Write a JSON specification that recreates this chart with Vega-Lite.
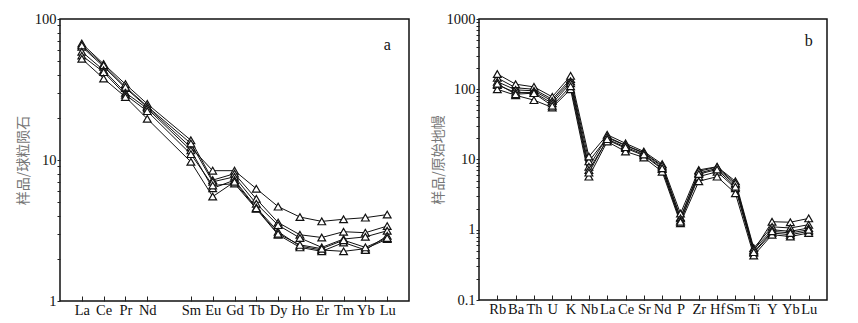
{
  "$schema": "https://vega.github.io/schema/vega-lite/v6.json",
  "padding": {"left": 15, "top": 10, "right": 0, "bottom": 0},
  "background": "white",
  "config": {
    "view": {"stroke": "#111", "strokeWidth": 1.5},
    "axis": {"grid": false, "domain": false, "labelFont": "Liberation Serif", "labelFontSize": 14.5, "labelColor": "#111", "tickColor": "#222", "titleFont": "Noto Sans CJK SC", "titleFontSize": 14, "titleFontWeight": "normal", "titleColor": "#777"}
  },
  "datasets": {
    "ree": [
      {"s": "1", "el": "La", "v": 63.5}, {"s": "1", "el": "Ce", "v": 45.9}, {"s": "1", "el": "Pr", "v": 32.4}, {"s": "1", "el": "Nd", "v": 23.7}, {"s": "1", "el": "Sm", "v": 12.3}, {"s": "1", "el": "Eu", "v": 8.4}, {"s": "1", "el": "Gd", "v": 8.4}, {"s": "1", "el": "Tb", "v": 6.26}, {"s": "1", "el": "Dy", "v": 4.67}, {"s": "1", "el": "Ho", "v": 3.94}, {"s": "1", "el": "Er", "v": 3.67}, {"s": "1", "el": "Tm", "v": 3.8}, {"s": "1", "el": "Yb", "v": 3.9}, {"s": "1", "el": "Lu", "v": 4.1},
      {"s": "2", "el": "La", "v": 67}, {"s": "2", "el": "Ce", "v": 48}, {"s": "2", "el": "Pr", "v": 34.5}, {"s": "2", "el": "Nd", "v": 25}, {"s": "2", "el": "Sm", "v": 13.8}, {"s": "2", "el": "Eu", "v": 7.2}, {"s": "2", "el": "Gd", "v": 8.0}, {"s": "2", "el": "Tb", "v": 5.3}, {"s": "2", "el": "Dy", "v": 3.6}, {"s": "2", "el": "Ho", "v": 2.95}, {"s": "2", "el": "Er", "v": 2.82}, {"s": "2", "el": "Tm", "v": 3.1}, {"s": "2", "el": "Yb", "v": 3.05}, {"s": "2", "el": "Lu", "v": 3.4},
      {"s": "3", "el": "La", "v": 65}, {"s": "3", "el": "Ce", "v": 47}, {"s": "3", "el": "Pr", "v": 33}, {"s": "3", "el": "Nd", "v": 24}, {"s": "3", "el": "Sm", "v": 13.1}, {"s": "3", "el": "Eu", "v": 7.0}, {"s": "3", "el": "Gd", "v": 7.6}, {"s": "3", "el": "Tb", "v": 4.9}, {"s": "3", "el": "Dy", "v": 3.45}, {"s": "3", "el": "Ho", "v": 2.8}, {"s": "3", "el": "Er", "v": 2.4}, {"s": "3", "el": "Tm", "v": 2.75}, {"s": "3", "el": "Yb", "v": 2.85}, {"s": "3", "el": "Lu", "v": 3.15},
      {"s": "4", "el": "La", "v": 58.6}, {"s": "4", "el": "Ce", "v": 43.3}, {"s": "4", "el": "Pr", "v": 30}, {"s": "4", "el": "Nd", "v": 23.2}, {"s": "4", "el": "Sm", "v": 11.7}, {"s": "4", "el": "Eu", "v": 6.3}, {"s": "4", "el": "Gd", "v": 7.2}, {"s": "4", "el": "Tb", "v": 4.6}, {"s": "4", "el": "Dy", "v": 3.1}, {"s": "4", "el": "Ho", "v": 2.45}, {"s": "4", "el": "Er", "v": 2.3}, {"s": "4", "el": "Tm", "v": 2.25}, {"s": "4", "el": "Yb", "v": 2.35}, {"s": "4", "el": "Lu", "v": 2.75},
      {"s": "5", "el": "La", "v": 55}, {"s": "5", "el": "Ce", "v": 42}, {"s": "5", "el": "Pr", "v": 29}, {"s": "5", "el": "Nd", "v": 22.2}, {"s": "5", "el": "Sm", "v": 11.0}, {"s": "5", "el": "Eu", "v": 6.6}, {"s": "5", "el": "Gd", "v": 6.8}, {"s": "5", "el": "Tb", "v": 4.5}, {"s": "5", "el": "Dy", "v": 2.95}, {"s": "5", "el": "Ho", "v": 2.4}, {"s": "5", "el": "Er", "v": 2.25}, {"s": "5", "el": "Tm", "v": 2.6}, {"s": "5", "el": "Yb", "v": 2.3}, {"s": "5", "el": "Lu", "v": 2.9},
      {"s": "6", "el": "La", "v": 52.2}, {"s": "6", "el": "Ce", "v": 37.8}, {"s": "6", "el": "Pr", "v": 28}, {"s": "6", "el": "Nd", "v": 19.6}, {"s": "6", "el": "Sm", "v": 9.7}, {"s": "6", "el": "Eu", "v": 5.5}, {"s": "6", "el": "Gd", "v": 7.0}, {"s": "6", "el": "Tb", "v": 4.55}, {"s": "6", "el": "Dy", "v": 3.0}, {"s": "6", "el": "Ho", "v": 2.5}, {"s": "6", "el": "Er", "v": 2.35}, {"s": "6", "el": "Tm", "v": 2.7}, {"s": "6", "el": "Yb", "v": 2.4}, {"s": "6", "el": "Lu", "v": 2.8}
    ],
    "spider": [
      {"s": "1", "el": "Rb", "v": 145}, {"s": "1", "el": "Ba", "v": 105}, {"s": "1", "el": "Th", "v": 100}, {"s": "1", "el": "U", "v": 72}, {"s": "1", "el": "K", "v": 140}, {"s": "1", "el": "Nb", "v": 9.4}, {"s": "1", "el": "La", "v": 20.5}, {"s": "1", "el": "Ce", "v": 15.8}, {"s": "1", "el": "Sr", "v": 12.3}, {"s": "1", "el": "Nd", "v": 7.9}, {"s": "1", "el": "P", "v": 1.5}, {"s": "1", "el": "Zr", "v": 6.4}, {"s": "1", "el": "Hf", "v": 7.5}, {"s": "1", "el": "Sm", "v": 4.4}, {"s": "1", "el": "Ti", "v": 0.5}, {"s": "1", "el": "Y", "v": 1.3}, {"s": "1", "el": "Yb", "v": 1.28}, {"s": "1", "el": "Lu", "v": 1.45},
      {"s": "2", "el": "Rb", "v": 165}, {"s": "2", "el": "Ba", "v": 118}, {"s": "2", "el": "Th", "v": 108}, {"s": "2", "el": "U", "v": 78}, {"s": "2", "el": "K", "v": 155}, {"s": "2", "el": "Nb", "v": 11}, {"s": "2", "el": "La", "v": 22.5}, {"s": "2", "el": "Ce", "v": 17}, {"s": "2", "el": "Sr", "v": 13}, {"s": "2", "el": "Nd", "v": 8.6}, {"s": "2", "el": "P", "v": 1.7}, {"s": "2", "el": "Zr", "v": 7.1}, {"s": "2", "el": "Hf", "v": 7.9}, {"s": "2", "el": "Sm", "v": 4.9}, {"s": "2", "el": "Ti", "v": 0.55}, {"s": "2", "el": "Y", "v": 1.1}, {"s": "2", "el": "Yb", "v": 1.06}, {"s": "2", "el": "Lu", "v": 1.18},
      {"s": "3", "el": "Rb", "v": 128}, {"s": "3", "el": "Ba", "v": 98}, {"s": "3", "el": "Th", "v": 95}, {"s": "3", "el": "U", "v": 68}, {"s": "3", "el": "K", "v": 130}, {"s": "3", "el": "Nb", "v": 7.9}, {"s": "3", "el": "La", "v": 21}, {"s": "3", "el": "Ce", "v": 16}, {"s": "3", "el": "Sr", "v": 12.5}, {"s": "3", "el": "Nd", "v": 8.2}, {"s": "3", "el": "P", "v": 1.45}, {"s": "3", "el": "Zr", "v": 6.8}, {"s": "3", "el": "Hf", "v": 7.8}, {"s": "3", "el": "Sm", "v": 4.6}, {"s": "3", "el": "Ti", "v": 0.52}, {"s": "3", "el": "Y", "v": 1.0}, {"s": "3", "el": "Yb", "v": 0.95}, {"s": "3", "el": "Lu", "v": 1.06},
      {"s": "4", "el": "Rb", "v": 115}, {"s": "4", "el": "Ba", "v": 90}, {"s": "4", "el": "Th", "v": 90}, {"s": "4", "el": "U", "v": 63}, {"s": "4", "el": "K", "v": 122}, {"s": "4", "el": "Nb", "v": 7.1}, {"s": "4", "el": "La", "v": 19}, {"s": "4", "el": "Ce", "v": 14.5}, {"s": "4", "el": "Sr", "v": 11.4}, {"s": "4", "el": "Nd", "v": 7.3}, {"s": "4", "el": "P", "v": 1.35}, {"s": "4", "el": "Zr", "v": 5.7}, {"s": "4", "el": "Hf", "v": 6.7}, {"s": "4", "el": "Sm", "v": 3.9}, {"s": "4", "el": "Ti", "v": 0.47}, {"s": "4", "el": "Y", "v": 0.9}, {"s": "4", "el": "Yb", "v": 0.85}, {"s": "4", "el": "Lu", "v": 0.95},
      {"s": "5", "el": "Rb", "v": 100}, {"s": "5", "el": "Ba", "v": 82}, {"s": "5", "el": "Th", "v": 70}, {"s": "5", "el": "U", "v": 55}, {"s": "5", "el": "K", "v": 100}, {"s": "5", "el": "Nb", "v": 5.7}, {"s": "5", "el": "La", "v": 18}, {"s": "5", "el": "Ce", "v": 13}, {"s": "5", "el": "Sr", "v": 10.7}, {"s": "5", "el": "Nd", "v": 6.7}, {"s": "5", "el": "P", "v": 1.24}, {"s": "5", "el": "Zr", "v": 4.9}, {"s": "5", "el": "Hf", "v": 5.7}, {"s": "5", "el": "Sm", "v": 3.3}, {"s": "5", "el": "Ti", "v": 0.43}, {"s": "5", "el": "Y", "v": 0.85}, {"s": "5", "el": "Yb", "v": 0.8}, {"s": "5", "el": "Lu", "v": 0.9},
      {"s": "6", "el": "Rb", "v": 120}, {"s": "6", "el": "Ba", "v": 85}, {"s": "6", "el": "Th", "v": 88}, {"s": "6", "el": "U", "v": 58}, {"s": "6", "el": "K", "v": 110}, {"s": "6", "el": "Nb", "v": 6.5}, {"s": "6", "el": "La", "v": 19.5}, {"s": "6", "el": "Ce", "v": 15}, {"s": "6", "el": "Sr", "v": 11.8}, {"s": "6", "el": "Nd", "v": 7.5}, {"s": "6", "el": "P", "v": 1.3}, {"s": "6", "el": "Zr", "v": 6.2}, {"s": "6", "el": "Hf", "v": 7.2}, {"s": "6", "el": "Sm", "v": 4.1}, {"s": "6", "el": "Ti", "v": 0.48}, {"s": "6", "el": "Y", "v": 0.95}, {"s": "6", "el": "Yb", "v": 0.9}, {"s": "6", "el": "Lu", "v": 1.0}
    ]
  },
  "spacing": 20,
  "hconcat": [
    {
      "width": 349,
      "height": 282,
      "layer": [
        {
          "data": {"name": "ree"},
          "encoding": {
            "x": {"field": "el", "type": "ordinal", "sort": ["La","Ce","Pr","Nd","Pm","Sm","Eu","Gd","Tb","Dy","Ho","Er","Tm","Yb","Lu"],
              "scale": {"type": "point", "padding": 1, "domain": ["La","Ce","Pr","Nd","Pm","Sm","Eu","Gd","Tb","Dy","Ho","Er","Tm","Yb","Lu"]},
              "axis": {"title": null, "labelAngle": 0, "values": ["La","Ce","Pr","Nd","Sm","Eu","Gd","Tb","Dy","Ho","Er","Tm","Yb","Lu"], "tickSize": -5, "labelPadding": 7, "labelOverlap": false}},
            "y": {"field": "v", "type": "quantitative", "scale": {"type": "log", "domain": [1, 100], "nice": false},
              "axis": {"title": "样品/球粒陨石", "values": [1,2,3,4,5,6,7,8,9,10,20,30,40,50,60,70,80,90,100], "labelExpr": "indexof([1,10,100], datum.value) >= 0 ? format(datum.value, '~g') : ''", "tickSize": 3, "labelPadding": 1, "titlePadding": 4}},
            "detail": {"field": "s"}
          },
          "layer": [
            {"mark": {"type": "line", "color": "#111", "strokeWidth": 1}},
            {"mark": {"type": "point", "shape": "triangle-up", "filled": true, "fill": "white", "stroke": "#111", "strokeWidth": 1.2, "size": 60, "opacity": 1}}
          ]
        },
        {
          "data": {"values": [{"t": "a", "el": "Lu", "v": 65}]},
          "mark": {"type": "text", "font": "Liberation Serif", "fontSize": 16, "color": "#111"},
          "encoding": {"x": {"field": "el", "type": "ordinal"}, "y": {"field": "v", "type": "quantitative"}, "text": {"field": "t"}}
        }
      ]
    },
    {
      "width": 348,
      "height": 281,
      "layer": [
        {
          "data": {"name": "spider"},
          "encoding": {
            "x": {"field": "el", "type": "ordinal", "sort": ["Rb","Ba","Th","U","K","Nb","La","Ce","Sr","Nd","P","Zr","Hf","Sm","Ti","Y","Yb","Lu"],
              "scale": {"type": "point", "padding": 1, "domain": ["Rb","Ba","Th","U","K","Nb","La","Ce","Sr","Nd","P","Zr","Hf","Sm","Ti","Y","Yb","Lu"]},
              "axis": {"title": null, "labelAngle": 0, "tickSize": -5, "labelPadding": 7, "labelOverlap": false}},
            "y": {"field": "v", "type": "quantitative", "scale": {"type": "log", "domain": [0.1, 1000], "nice": false},
              "axis": {"title": "样品/原始地幔", "values": [0.1,0.2,0.3,0.4,0.5,0.6,0.7,0.8,0.9,1,2,3,4,5,6,7,8,9,10,20,30,40,50,60,70,80,90,100,200,300,400,500,600,700,800,900,1000], "labelExpr": "indexof([0.1,1,10,100,1000], datum.value) >= 0 ? format(datum.value, '~g') : ''", "tickSize": 3, "labelPadding": 1, "titlePadding": 1}},
            "detail": {"field": "s"}
          },
          "layer": [
            {"mark": {"type": "line", "color": "#111", "strokeWidth": 1}},
            {"mark": {"type": "point", "shape": "triangle-up", "filled": true, "fill": "white", "stroke": "#111", "strokeWidth": 1.2, "size": 60, "opacity": 1}}
          ]
        },
        {
          "data": {"values": [{"t": "b", "el": "Lu", "v": 490}]},
          "mark": {"type": "text", "font": "Liberation Serif", "fontSize": 16, "color": "#111"},
          "encoding": {"x": {"field": "el", "type": "ordinal"}, "y": {"field": "v", "type": "quantitative"}, "text": {"field": "t"}}
        }
      ]
    }
  ]
}
